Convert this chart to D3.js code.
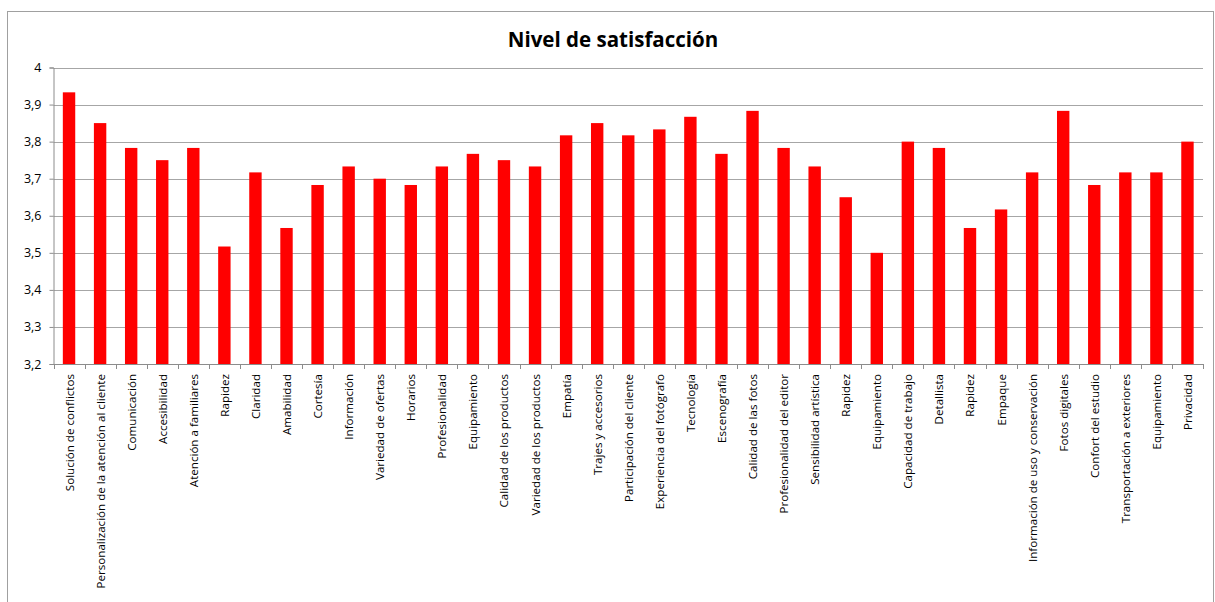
<!DOCTYPE html>
<html>
<head>
<meta charset="utf-8">
<script src="https://cdn.jsdelivr.net/npm/d3@7/dist/d3.min.js"></script>
<style>
  html, body { margin: 0; padding: 0; background: #fff; }
  svg { display: block; }
  text { font-family: "Open Sans", "Noto Sans", sans-serif; fill: #000; }
</style>
</head>
<body>
<svg id="chart" width="1215" height="602"></svg>
<script>
const title = "Nivel de satisfacción";
const categories = [
  "Solución de conflictos",
  "Personalización de la atención al cliente",
  "Comunicación",
  "Accesibilidad",
  "Atención a familiares",
  "Rapidez",
  "Claridad",
  "Amabilidad",
  "Cortesía",
  "Información",
  "Variedad de ofertas",
  "Horarios",
  "Profesionalidad",
  "Equipamiento",
  "Calidad de los productos",
  "Variedad de los productos",
  "Empatía",
  "Trajes y accesorios",
  "Participación del cliente",
  "Experiencia del fotógrafo",
  "Tecnología",
  "Escenografía",
  "Calidad de las fotos",
  "Profesionalidad del editor",
  "Sensibilidad artística",
  "Rapidez",
  "Equipamiento",
  "Capacidad de trabajo",
  "Detallista",
  "Rapidez",
  "Empaque",
  "Información de uso y conservación",
  "Fotos digitales",
  "Confort del estudio",
  "Transportación a exteriores",
  "Equipamiento",
  "Privacidad"
];
const values = [
  3.933, 3.85, 3.783, 3.75, 3.783, 3.517, 3.717, 3.567, 3.683, 3.733,
  3.70, 3.683, 3.733, 3.767, 3.75, 3.733, 3.817, 3.85, 3.817, 3.833,
  3.867, 3.767, 3.883, 3.783, 3.733, 3.65, 3.50, 3.80, 3.783, 3.567,
  3.617, 3.717, 3.883, 3.683, 3.717, 3.717, 3.80
];
const yDomain = [3.2, 4.0];
const yTicks = [3.2, 3.3, 3.4, 3.5, 3.6, 3.7, 3.8, 3.9, 4.0];

const svg = d3.select("#chart");
const plot = { left: 53.5, right: 1203, top: 67.5, bottom: 364 };

// outer chart border
svg.append("rect")
  .attr("x", 7.5).attr("y", 11.5)
  .attr("width", 1206).attr("height", 620)
  .attr("fill", "#fff").attr("stroke", "#a0a0a0").attr("stroke-width", 1);

svg.append("text")
  .attr("x", 613).attr("y", 47)
  .attr("text-anchor", "middle")
  .attr("font-size", "20.5px").attr("font-weight", "bold")
  .text(title);

const xBand = d3.scaleBand()
  .domain(d3.range(categories.length))
  .range([plot.left, plot.right]);

const y = d3.scaleLinear().domain(yDomain).range([plot.bottom, plot.top]);

// gridlines
svg.append("g")
  .selectAll("line")
  .data(yTicks.filter(t => t > yDomain[0]))
  .join("line")
  .attr("x1", plot.left).attr("x2", plot.right)
  .attr("y1", d => Math.round(y(d)) + 0.5).attr("y2", d => Math.round(y(d)) + 0.5)
  .attr("stroke", "#a6a6a6").attr("stroke-width", 1);

// bars
svg.append("g")
  .selectAll("rect")
  .data(values)
  .join("rect")
  .attr("x", (d, i) => xBand(i) + xBand.bandwidth() / 2 - 6.2)
  .attr("width", 12.4)
  .attr("y", d => y(d))
  .attr("height", d => y(yDomain[0]) - y(d))
  .attr("fill", "#ff0000");

// y axis
const yAxis = d3.axisLeft(y)
  .tickValues(yTicks)
  .tickSize(4)
  .tickPadding(8)
  .tickFormat(d => d3.format(".1~f")(d).replace(".", ","));
const gy = svg.append("g")
  .attr("transform", `translate(${plot.left},0)`)
  .call(yAxis);
gy.select(".domain").attr("stroke", "#8c8c8c");
gy.selectAll(".tick line").attr("stroke", "#8c8c8c");
gy.selectAll(".tick text")
  .attr("font-family", "'Open Sans', 'Noto Sans', sans-serif")
  .attr("font-size", "12.5px").attr("fill", "#000");

// x axis: ticks at band boundaries
const gx = svg.append("g");
gx.append("line")
  .attr("x1", plot.left).attr("x2", plot.right)
  .attr("y1", plot.bottom + 0.5).attr("y2", plot.bottom + 0.5)
  .attr("stroke", "#8c8c8c");
gx.selectAll("line.tk")
  .data(d3.range(categories.length + 1))
  .join("line")
  .attr("class", "tk")
  .attr("x1", i => Math.round(i < categories.length ? xBand(i) : plot.right) + 0.5)
  .attr("x2", i => Math.round(i < categories.length ? xBand(i) : plot.right) + 0.5)
  .attr("y1", plot.bottom).attr("y2", plot.bottom + 5)
  .attr("stroke", "#8c8c8c");

gx.selectAll("text")
  .data(categories)
  .join("text")
  .attr("transform", (d, i) => `translate(${xBand(i) + xBand.bandwidth() / 2 + 4.5},${plot.bottom + 10}) rotate(-90)`)
  .attr("text-anchor", "end")
  .attr("font-size", "11.6px")
  .text(d => d);
</script>
</body>
</html>
